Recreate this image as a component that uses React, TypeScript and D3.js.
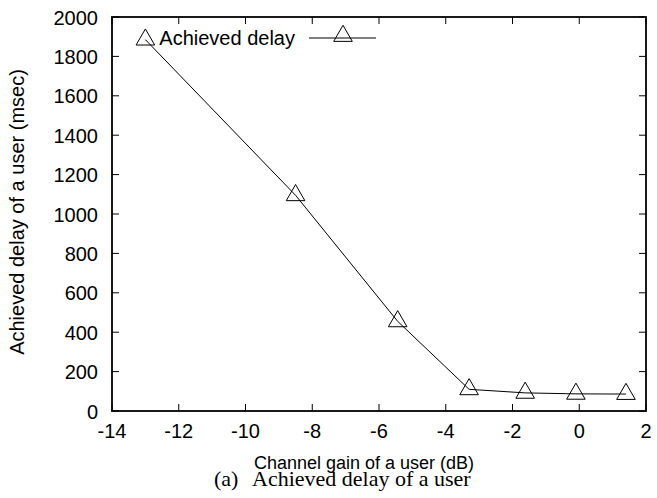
import React, { useRef, useEffect } from 'react';
import * as d3 from 'd3';

const gainDb = [-13, -8.5, -5.44, -3.3, -1.62, -0.1, 1.4];
const delayMs = [1885, 1095, 455, 110, 92, 87, 86];
const xTicks = [-14, -12, -10, -8, -6, -4, -2, 0, 2];
const yTicks = [0, 200, 400, 600, 800, 1000, 1200, 1400, 1600, 1800, 2000];

const W = 657;
const H = 498;
const margin = { top: 17, right: 11, bottom: 87, left: 112 };
const font = '"Liberation Sans", Arial, sans-serif';
const serif = '"Liberation Serif", "Times New Roman", serif';

function App(): React.ReactElement {
    const ref = useRef<SVGSVGElement | null>(null);

    useEffect(() => {
        if (!ref.current) return;
        const svg = d3.select(ref.current);
        svg.selectAll('*').remove();

        const x = d3.scaleLinear().domain([-14, 2]).range([margin.left, W - margin.right]);
        const y = d3.scaleLinear().domain([0, 2000]).range([H - margin.bottom, margin.top]);
        const tick = 7;

        const g = svg.append('g');

        // ticks (inward, mirrored like gnuplot)
        xTicks.forEach(t => {
            g.append('line').attr('x1', x(t)).attr('x2', x(t))
                .attr('y1', y(0)).attr('y2', y(0) - tick).attr('stroke', '#000').attr('stroke-width', 1);
            g.append('line').attr('x1', x(t)).attr('x2', x(t))
                .attr('y1', y(2000)).attr('y2', y(2000) + tick).attr('stroke', '#000').attr('stroke-width', 1);
            g.append('text').attr('x', x(t)).attr('y', 438)
                .attr('text-anchor', 'middle').style('font-family', font).style('font-size', '20px')
                .text(String(t));
        });
        yTicks.forEach(t => {
            g.append('line').attr('x1', x(-14)).attr('x2', x(-14) + tick)
                .attr('y1', y(t)).attr('y2', y(t)).attr('stroke', '#000').attr('stroke-width', 1);
            g.append('line').attr('x1', x(2)).attr('x2', x(2) - tick)
                .attr('y1', y(t)).attr('y2', y(t)).attr('stroke', '#000').attr('stroke-width', 1);
            g.append('text').attr('x', 98).attr('y', y(t) + 7.5)
                .attr('text-anchor', 'end').style('font-family', font).style('font-size', '20px')
                .text(String(t));
        });

        g.append('rect')
            .attr('x', x(-14)).attr('y', y(2000))
            .attr('width', x(2) - x(-14)).attr('height', y(0) - y(2000))
            .attr('fill', 'none').attr('stroke', '#000').attr('stroke-width', 1.8);

        const pts = gainDb.map((d, i) => [d, delayMs[i]] as [number, number]);
        const line = d3.line<[number, number]>().x(d => x(d[0])).y(d => y(d[1]));
        g.append('path').attr('d', line(pts) ?? '')
            .attr('fill', 'none').attr('stroke', '#000').attr('stroke-width', 1);

        const tri = d3.symbol().type(d3.symbolTriangle).size(150);
        const drawTri = (cx: number, cy: number) =>
            g.append('path').attr('d', tri() ?? '')
                .attr('transform', `translate(${cx},${cy})`)
                .attr('fill', 'none').attr('stroke', '#000').attr('stroke-width', 1);
        pts.forEach(p => drawTri(x(p[0]), y(p[1])));

        // legend
        g.append('text').attr('x', 295).attr('y', 45)
            .attr('text-anchor', 'end').style('font-family', font).style('font-size', '20px')
            .text('Achieved delay');
        g.append('line').attr('x1', 309).attr('x2', 376).attr('y1', 38).attr('y2', 38)
            .attr('stroke', '#000').attr('stroke-width', 1);
        drawTri(343, 36);

        // axis titles
        g.append('text').attr('x', 364).attr('y', 469)
            .attr('text-anchor', 'middle').style('font-family', font).style('font-size', '18px')
            .text('Channel gain of a user (dB)');
        g.append('text').attr('transform', `translate(24,212) rotate(-90)`)
            .attr('text-anchor', 'middle').style('font-family', font).style('font-size', '20px')
            .text('Achieved delay of a user (msec)');

        // caption
        g.append('text').attr('x', 214).attr('y', 486)
            .style('font-family', serif).style('font-size', '22px')
            .text('(a)');
        g.append('text').attr('x', 252).attr('y', 486)
            .style('font-family', serif).style('font-size', '22px')
            .text('Achieved delay of a user');
    }, []);

    return (
        <svg ref={ref} width={W} height={H}
            style={{ position: 'absolute', left: 0, top: 0, background: '#fff' }} />
    );
}

export default App;
